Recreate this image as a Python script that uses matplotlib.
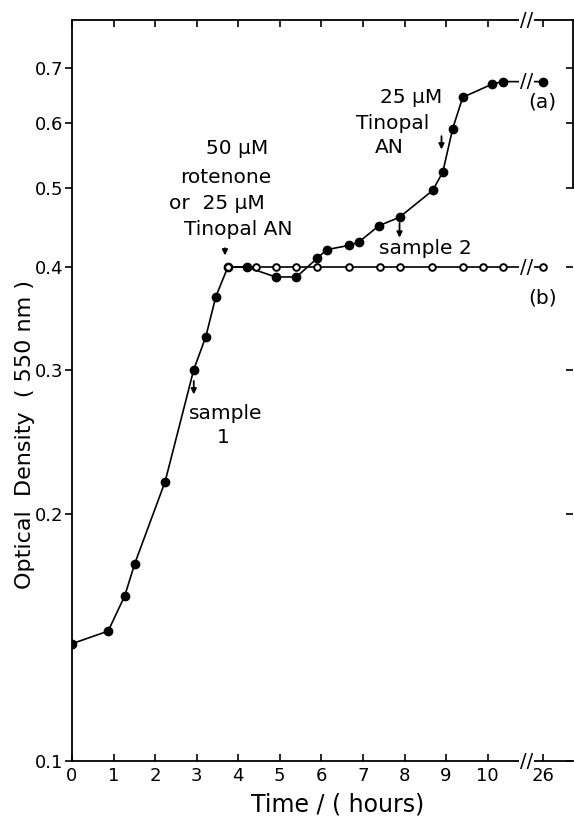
import numpy as np
import matplotlib.pyplot as plt
from matplotlib.ticker import FixedLocator, NullLocator, FixedFormatter

# Curve (a): filled circles
time_a = [0, 0.87, 1.27, 1.51, 2.24, 2.93, 3.22, 3.46, 3.75, 4.2, 4.9, 5.4,
          5.9, 6.13, 6.66, 6.9, 7.38, 7.88, 8.68, 8.92, 9.16, 9.4, 10.1, 10.36, 26]
od_a = [0.139, 0.144, 0.159, 0.174, 0.219, 0.300, 0.329, 0.368, 0.400, 0.400, 0.389, 0.389,
        0.410, 0.420, 0.425, 0.429, 0.449, 0.460, 0.496, 0.522, 0.590, 0.644, 0.668, 0.673, 0.673]

# Curve (b): open circles
time_b = [3.75, 4.42, 4.9, 5.4, 5.9, 6.66, 7.4, 7.9, 8.65, 9.4, 9.9, 10.38, 26]
od_b = [0.40, 0.40, 0.40, 0.40, 0.40, 0.40, 0.40, 0.40, 0.40, 0.40, 0.40, 0.40, 0.40]

x_ticks = [0, 1, 2, 3, 4, 5, 6, 7, 8, 9, 10, 26]
y_ticks = [0.1, 0.2, 0.3, 0.4, 0.5, 0.6, 0.7]
y_ticklabels = ['0.1', '0.2', '0.3', '0.4', '0.5', '0.6', '0.7']

# broken time axis: 26 h is drawn just after the break
BREAK_AT = 10.94
POS_26 = 11.33


def axis_pos(t):
    t = np.asarray(t, dtype=float)
    return np.where(t > 11, POS_26, t)


fig = plt.figure(figsize=(5.74, 8.17), dpi=100)
ax = fig.add_axes([0.1254, 0.0685, 0.8726, 0.907])

ax.plot(axis_pos(time_a), od_a, '-', color='black', lw=1.2, marker='o', ms=6,
        mfc='black', mec='black', zorder=3)
ax.plot(axis_pos(time_b), od_b, '-', color='black', lw=1.2, marker='o', ms=4.8,
        mfc='white', mec='black', mew=1.4, zorder=4)

ax.set_yscale('log')
ax.set_ylim(0.1, 0.8)
ax.set_xlim(0, 12.05)
ax.yaxis.set_major_locator(FixedLocator(y_ticks))
ax.yaxis.set_major_formatter(FixedFormatter(y_ticklabels))
ax.yaxis.set_minor_locator(NullLocator())
ax.xaxis.set_major_locator(FixedLocator(axis_pos(x_ticks)))
ax.xaxis.set_major_formatter(FixedFormatter([str(t) for t in x_ticks]))

ax.tick_params(axis='y', which='major', direction='out', length=5, width=1.2,
               labelsize=13, right=True, pad=1)
ax.tick_params(axis='x', which='major', direction='in', length=5, width=1.2,
               labelsize=13, top=True, pad=4)
for t in ax.yaxis.get_major_ticks():
    t.tick2line.set_marker(0)  # right ticks point inward
for s in ax.spines.values():
    s.set_linewidth(1.3)
ax.spines['right'].set_bounds(0.5, 0.8)

ax.set_xlabel('Time / ( hours)', fontsize=17, labelpad=0)
ax.xaxis.set_label_coords(0.53, -0.043)
ax.set_ylabel('Optical  Density  ( 550 nm )', fontsize=16)
ax.yaxis.set_label_coords(-0.074, 0.44)

# break marks on the axes and on both curves
brk = dict(ha='center', va='center', fontsize=14, clip_on=False,
           bbox=dict(boxstyle='square,pad=0.05', fc='white', ec='none'), zorder=5)
ax.text(BREAK_AT, 1.0, '//', transform=ax.get_xaxis_transform(), **brk)
ax.text(BREAK_AT, 0.0, '//', transform=ax.get_xaxis_transform(), **brk)
ax.text(BREAK_AT, od_a[-1], '//', **brk)
ax.text(BREAK_AT, od_b[-1], '//', **brk)

# annotations
fs = 14.5
arrow = dict(arrowstyle='-|>', color='black', lw=1.3, mutation_scale=8)
ax.text(3.97, 0.558, '50 µM', ha='center', va='center', fontsize=fs)
ax.text(3.70, 0.514, 'rotenone', ha='center', va='center', fontsize=fs)
ax.text(3.49, 0.478, 'or  25 µM', ha='center', va='center', fontsize=fs)
ax.text(4.01, 0.444, 'Tinopal AN', ha='center', va='center', fontsize=fs)
ax.annotate('', xy=(3.68, 0.410), xytext=(3.68, 0.425), arrowprops=arrow)

ax.text(3.70, 0.2654, 'sample', ha='center', va='center', fontsize=fs)
ax.text(3.65, 0.248, '1', ha='center', va='center', fontsize=fs)
ax.annotate('', xy=(2.93, 0.2776), xytext=(2.93, 0.2928), arrowprops=arrow)

ax.text(8.49, 0.4216, 'sample 2', ha='center', va='center', fontsize=fs)
ax.annotate('', xy=(7.88, 0.431), xytext=(7.88, 0.456), arrowprops=arrow)

ax.text(8.15, 0.644, '25 µM', ha='center', va='center', fontsize=fs)
ax.text(7.72, 0.5985, 'Tinopal', ha='center', va='center', fontsize=fs)
ax.text(7.64, 0.5596, 'AN', ha='center', va='center', fontsize=fs)
ax.annotate('', xy=(8.89, 0.552), xytext=(8.89, 0.582), arrowprops=arrow)

ax.text(11.32, 0.636, '(a)', ha='center', va='center', fontsize=fs)
ax.text(11.32, 0.367, '(b)', ha='center', va='center', fontsize=fs)

fig.savefig('out.png', dpi=100)
